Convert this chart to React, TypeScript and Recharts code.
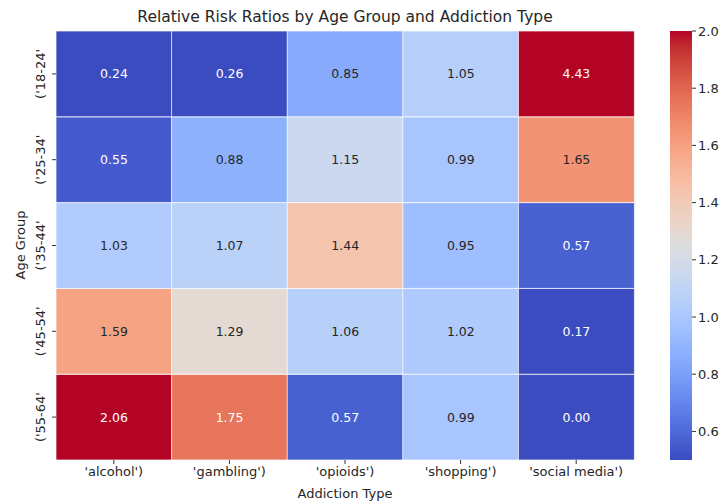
import { BarChart, Bar, XAxis, YAxis, Cell, LabelList } from 'recharts';

const addictionTypes = ["'alcohol')", "'gambling')", "'opioids')", "'shopping')", "'social media')"];
const ageGroups = ["('18-24'", "('25-34'", "('35-44'", "('45-54'", "('55-64'"];

const ratios18to24 = [0.24, 0.26, 0.85, 1.05, 4.43];
const ratios25to34 = [0.55, 0.88, 1.15, 0.99, 1.65];
const ratios35to44 = [1.03, 1.07, 1.44, 0.95, 0.57];
const ratios45to54 = [1.59, 1.29, 1.06, 1.02, 0.17];
const ratios55to64 = [2.06, 1.75, 0.57, 0.99, 0.0];
const ratioRows = [ratios18to24, ratios25to34, ratios35to44, ratios45to54, ratios55to64];

const colorbarTicks = [0.6, 0.8, 1.0, 1.2, 1.4, 1.6, 1.8, 2.0];
const V_MIN = 0.5;
const V_MAX = 2.0;

// matplotlib coolwarm (Moreland table, 33 steps)
const COOLWARM: number[][] = [
  [59, 76, 192], [68, 90, 204], [77, 104, 215], [87, 117, 225], [98, 130, 234],
  [108, 142, 241], [119, 154, 247], [130, 165, 251], [141, 176, 254], [152, 185, 255],
  [163, 194, 255], [174, 201, 253], [184, 208, 249], [194, 213, 244], [204, 217, 238],
  [213, 219, 230], [221, 221, 221], [229, 216, 209], [236, 211, 197], [241, 204, 185],
  [245, 196, 173], [247, 187, 160], [247, 177, 148], [247, 166, 135], [244, 154, 123],
  [241, 141, 111], [236, 127, 99], [229, 112, 88], [222, 96, 77], [213, 80, 66],
  [203, 62, 56], [192, 40, 47], [180, 4, 38],
];

const FONT = "'DejaVu Sans', sans-serif";
const DARK = '#262626';

function coolwarmRgb(t: number): number[] {
  const s = Math.min(1, Math.max(0, t)) * (COOLWARM.length - 1);
  const i = Math.min(COOLWARM.length - 2, Math.floor(s));
  const f = s - i;
  return COOLWARM[i].map((c, k) => Math.round(c + (COOLWARM[i + 1][k] - c) * f));
}

const rgbStr = (c: number[]) => `rgb(${c[0]},${c[1]},${c[2]})`;
const valueRgb = (v: number) => coolwarmRgb((v - V_MIN) / (V_MAX - V_MIN));

function luminance(c: number[]) {
  const ch = c.map(x => {
    const v = x / 255;
    return v <= 0.03928 ? v / 12.92 : Math.pow((v + 0.055) / 1.055, 2.4);
  });
  return 0.2126 * ch[0] + 0.7152 * ch[1] + 0.0722 * ch[2];
}

const heatData = addictionTypes.map((type, j) => {
  const row: Record<string, any> = { type };
  ratioRows.forEach((r, i) => {
    row[`u${i}`] = 1;
    row[`v${i}`] = r[j];
  });
  return row;
});

const colorbarData = [{ name: 'cb', range: [V_MIN, V_MAX] }];

const renderCellLabel = (props: any) => {
  const { x, y, width, height, value } = props;
  const color = luminance(valueRgb(value)) > 0.39 ? DARK : '#ffffff';
  return (
    <text
      x={x + width / 2}
      y={y + height / 2}
      textAnchor="middle"
      dominantBaseline="central"
      fill={color}
      fontSize={12.5}
      fontFamily={FONT}
    >
      {Number(value).toFixed(2)}
    </text>
  );
};

const AgeTick = (props: any) => {
  const { y, payload } = props;
  const label = ageGroups[4 - Math.floor(payload.value)];
  const bx = 45;
  return (
    <text
      x={bx}
      y={y}
      transform={`rotate(-90, ${bx}, ${y})`}
      textAnchor="middle"
      fill={DARK}
      fontSize={13}
      fontFamily={FONT}
    >
      {label}
    </text>
  );
};

export default function App() {
  return (
    <div style={{ position: 'absolute', left: 0, top: 0, width: 720, height: 504, background: '#fff', fontFamily: FONT }}>
      <div style={{ position: 'absolute', left: 345, top: 17, transform: 'translate(-50%, -50%)', fontSize: 15.5, color: DARK, whiteSpace: 'nowrap' }}>
        Relative Risk Ratios by Age Group and Addiction Type
      </div>
      <div style={{ position: 'absolute', left: 345, top: 493, transform: 'translate(-50%, -50%)', fontSize: 13, color: DARK, whiteSpace: 'nowrap' }}>
        Addiction Type
      </div>
      <div style={{ position: 'absolute', left: 20, top: 245, transform: 'translate(-50%, -50%) rotate(-90deg)', fontSize: 13, color: DARK, whiteSpace: 'nowrap' }}>
        Age Group
      </div>

      <div style={{ position: 'absolute', left: 0, top: 0 }}>
        <BarChart
          width={720}
          height={504}
          data={heatData}
          margin={{ top: 31, right: 86, left: 0, bottom: 14 }}
          barCategoryGap={0}
          barGap={0}
        >
          <XAxis
            dataKey="type"
            height={30}
            axisLine={false}
            tickLine={{ stroke: '#333' }}
            tickSize={4}
            tickMargin={3}
            interval={0}
            tick={{ fill: DARK, fontSize: 13, fontFamily: FONT }}
          />
          <YAxis
            type="number"
            domain={[0, 5]}
            ticks={[0.5, 1.5, 2.5, 3.5, 4.5]}
            width={56}
            axisLine={false}
            tickLine={{ stroke: '#333' }}
            tickSize={4}
            tick={<AgeTick />}
          />
          {[4, 3, 2, 1, 0].map(i => (
            <Bar
              key={i}
              dataKey={`u${i}`}
              stackId="heat"
              isAnimationActive={false}
              stroke="#ffffff"
              strokeWidth={0.7}
            >
              {heatData.map((d, j) => (
                <Cell key={`c-${i}-${j}`} fill={rgbStr(valueRgb(d[`v${i}`]))} />
              ))}
              <LabelList dataKey={`v${i}`} content={renderCellLabel} />
            </Bar>
          ))}
        </BarChart>
      </div>

      <div style={{ position: 'absolute', left: 660, top: 0 }}>
        <BarChart
          width={60}
          height={504}
          data={colorbarData}
          margin={{ top: 31, right: 0, left: 10, bottom: 44 }}
          barCategoryGap={0}
        >
          <defs>
            <linearGradient id="cbGrad" x1="0" y1="0" x2="0" y2="1">
              {[...COOLWARM].reverse().map((c, k) => (
                <stop key={k} offset={k / (COOLWARM.length - 1)} stopColor={rgbStr(c)} />
              ))}
            </linearGradient>
          </defs>
          <XAxis dataKey="name" hide />
          <YAxis
            orientation="right"
            type="number"
            domain={[V_MIN, V_MAX]}
            ticks={colorbarTicks}
            width={28}
            axisLine={false}
            tickLine={{ stroke: '#333' }}
            tickSize={4}
            tickMargin={2}
            tickFormatter={(v: number) => v.toFixed(1)}
            tick={{ fill: DARK, fontSize: 13, fontFamily: FONT, textAnchor: 'start' }}
          />
          <Bar dataKey="range" fill="url(#cbGrad)" isAnimationActive={false} />
        </BarChart>
      </div>
    </div>
  );
}
